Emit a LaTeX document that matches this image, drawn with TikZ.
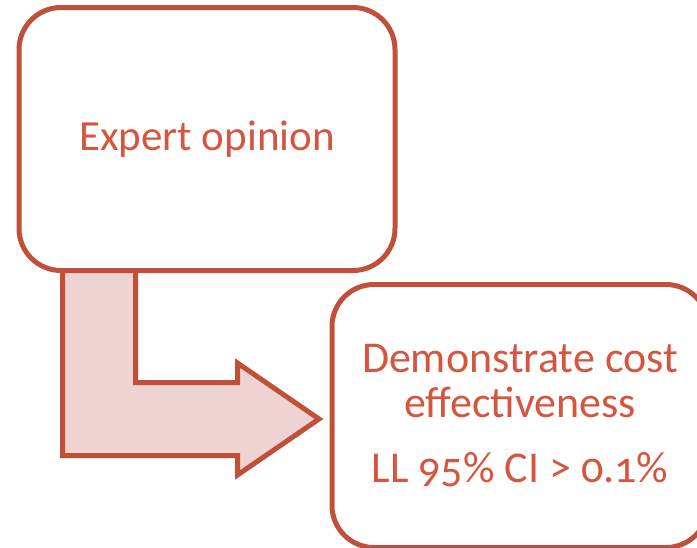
\documentclass[tikz,border=0pt]{standalone}
\usepackage{fontspec}
\setmainfont{Carlito}[Numbers=OldStyle]
\usepackage{tikz}
\definecolor{boxred}{RGB}{192,80,57}
\definecolor{textred}{RGB}{214,85,62}
\definecolor{arrowpink}{RGB}{239,211,210}
\tikzset{
    every node/.style={rectangle, rounded corners=42pt, draw=boxred, fill=white,
    	line width=5pt, text=textred, minimum width=376pt, minimum height=263pt}
}
\tikzset{
    bent arrow/.style={draw=boxred, fill=arrowpink, line width=5pt}
}

\begin{document}
\begin{tikzpicture}[x=1pt, y=-1pt]
  \useasboundingbox (0,0) rectangle (697,547);
  \clip (0,0) rectangle (697,547);

  % arrow from the first box into the second
  \draw[bent arrow] (62.5,270) -- (62.5,455.5) -- (237.5,455.5) -- (237.5,475)
    -- (319,419) -- (237.5,363) -- (237.5,382.5) -- (135.5,382.5) -- (135.5,270);

  \node[font=\fontsize{43}{52}\selectfont] (expert) at (207,139) {Expert opinion};
  \node[align=center, font=\fontsize{44}{45}\selectfont] (demo) at (520,416)
    {Demonstrate cost\\effectiveness\\[20pt]LL 95\% CI > 0.1\%};
\end{tikzpicture}
\end{document}
